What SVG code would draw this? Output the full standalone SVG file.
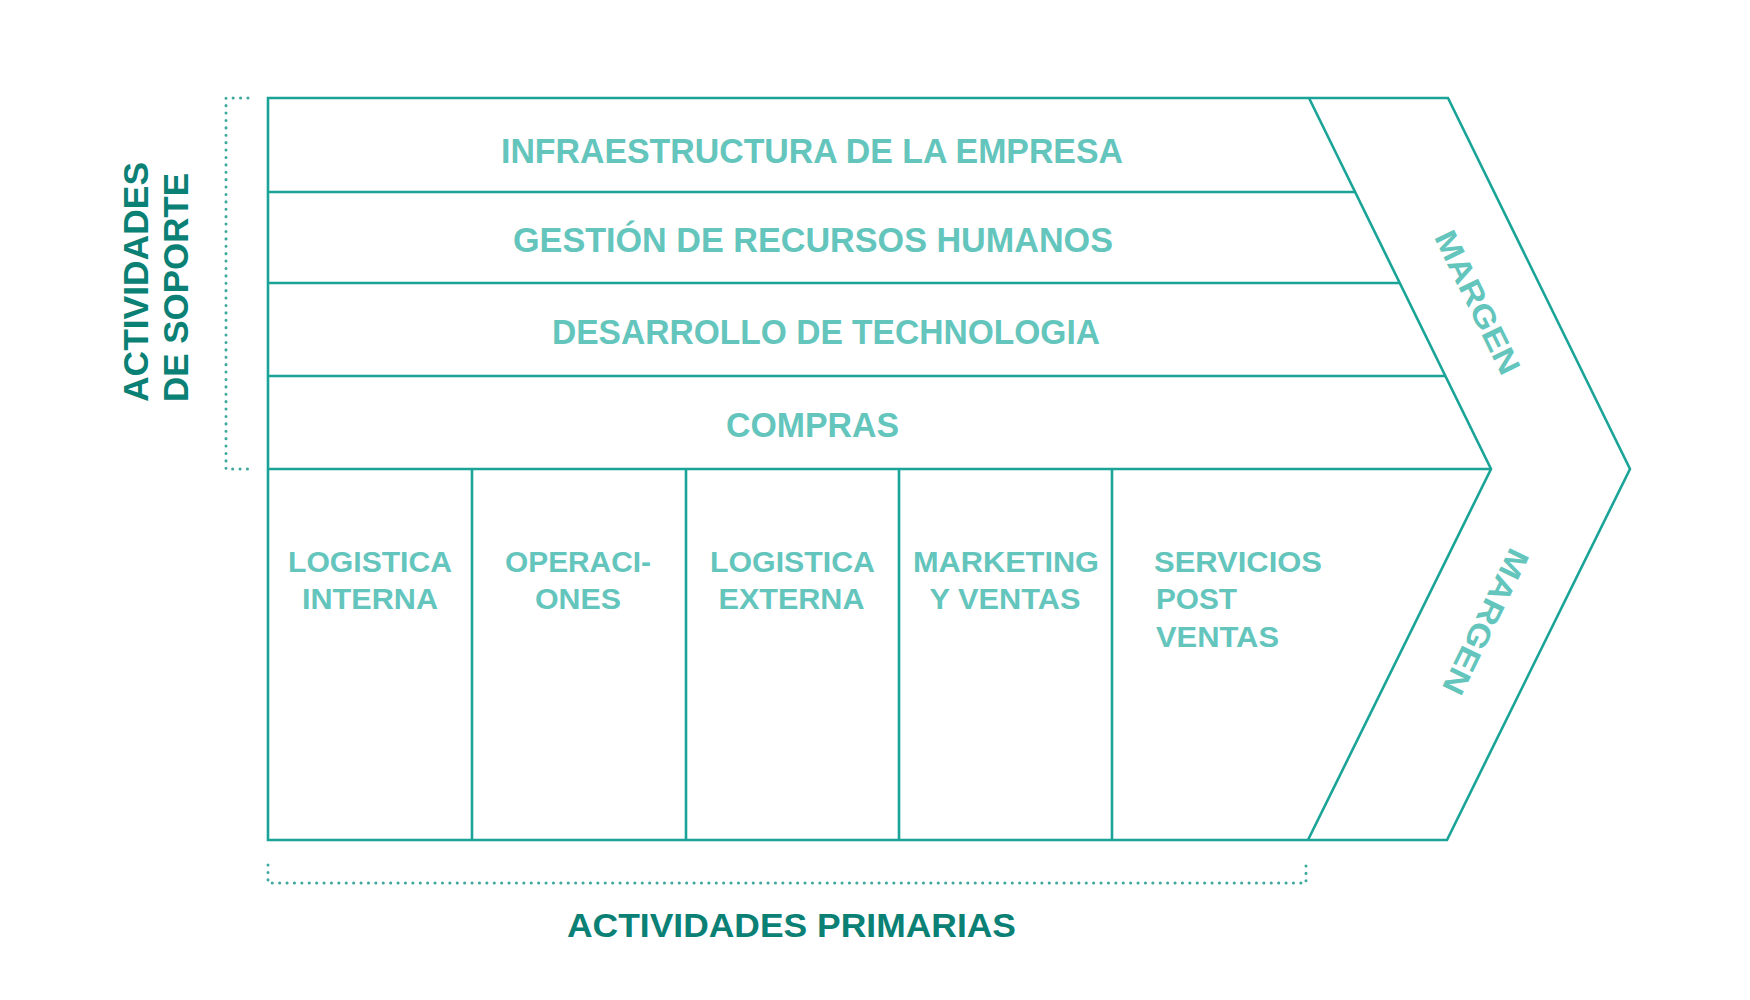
<svg xmlns="http://www.w3.org/2000/svg" width="1750" height="1000" viewBox="0 0 1750 1000">
  <style>
    .ln{fill:none;stroke:#1aa498;stroke-width:2.6;stroke-linejoin:miter}
    .dot{fill:none;stroke:#3fa89d;stroke-width:3;stroke-linecap:round;stroke-dasharray:0.1 7.3}
    .t{font-family:"Liberation Sans",Arial,sans-serif;font-weight:bold;fill:#63c5bc}
    .big{font-size:35px}
    .sm{font-size:29px}
    .mg{font-size:31px}
    .dk{font-family:"Liberation Sans",Arial,sans-serif;font-weight:bold;fill:#0b8074}
  </style>
  <rect width="1750" height="1000" fill="#ffffff"/>

  <g id="connectors">
    <path class="ln" d="M268,98 H1448 L1630,469 L1447,840 H268 Z"/>
    <path class="ln" d="M1309,98 L1491,469 L1308,840"/>
    <line class="ln" x1="268" y1="192" x2="1355" y2="192"/>
    <line class="ln" x1="268" y1="283" x2="1400" y2="283"/>
    <line class="ln" x1="268" y1="376" x2="1445" y2="376"/>
    <line class="ln" x1="268" y1="469" x2="1491" y2="469"/>
    <line class="ln" x1="472" y1="469" x2="472" y2="840"/>
    <line class="ln" x1="686" y1="469" x2="686" y2="840"/>
    <line class="ln" x1="899" y1="469" x2="899" y2="840"/>
    <line class="ln" x1="1112" y1="469" x2="1112" y2="840"/>
    <path class="dot" d="M248,98 H226 V469 H248"/>
    <path class="dot" d="M268,865 V883 H1306 V865"/>
  </g>

  <g id="infraestructura">
    <text class="t big" x="812" y="163" text-anchor="middle" textLength="622" lengthAdjust="spacingAndGlyphs">INFRAESTRUCTURA DE LA EMPRESA</text>
  </g>
  <g id="rrhh">
    <text class="t big" x="813" y="252" text-anchor="middle" textLength="600" lengthAdjust="spacingAndGlyphs">GESTIÓN DE RECURSOS HUMANOS</text>
  </g>
  <g id="tecnologia">
    <text class="t big" x="826" y="344" text-anchor="middle" textLength="548" lengthAdjust="spacingAndGlyphs">DESARROLLO DE TECHNOLOGIA</text>
  </g>
  <g id="compras">
    <text class="t big" x="812.5" y="437" text-anchor="middle" textLength="173" lengthAdjust="spacingAndGlyphs">COMPRAS</text>
  </g>

  <g id="logistica-interna">
    <text class="t sm" x="370" y="572" text-anchor="middle" textLength="164" lengthAdjust="spacingAndGlyphs">LOGISTICA</text>
    <text class="t sm" x="370" y="609" text-anchor="middle" textLength="136" lengthAdjust="spacingAndGlyphs">INTERNA</text>
  </g>
  <g id="operaciones">
    <text class="t sm" x="578" y="572" text-anchor="middle" textLength="146" lengthAdjust="spacingAndGlyphs">OPERACI-</text>
    <text class="t sm" x="578" y="609" text-anchor="middle" textLength="86" lengthAdjust="spacingAndGlyphs">ONES</text>
  </g>
  <g id="logistica-externa">
    <text class="t sm" x="792.5" y="572" text-anchor="middle" textLength="165" lengthAdjust="spacingAndGlyphs">LOGISTICA</text>
    <text class="t sm" x="791.5" y="609" text-anchor="middle" textLength="146" lengthAdjust="spacingAndGlyphs">EXTERNA</text>
  </g>
  <g id="marketing">
    <text class="t sm" x="1006" y="572" text-anchor="middle" textLength="186" lengthAdjust="spacingAndGlyphs">MARKETING</text>
    <text class="t sm" x="1005" y="609" text-anchor="middle" textLength="151" lengthAdjust="spacingAndGlyphs">Y VENTAS</text>
  </g>
  <g id="servicios">
    <text class="t sm" x="1154" y="572" textLength="168" lengthAdjust="spacingAndGlyphs">SERVICIOS</text>
    <text class="t sm" x="1156" y="609" textLength="81" lengthAdjust="spacingAndGlyphs">POST</text>
    <text class="t sm" x="1156" y="647" textLength="123" lengthAdjust="spacingAndGlyphs">VENTAS</text>
  </g>

  <g id="margen-superior">
    <text class="t mg" transform="translate(1468,307) rotate(64)" text-anchor="middle" textLength="156" lengthAdjust="spacingAndGlyphs">MARGEN</text>
  </g>
  <g id="margen-inferior">
    <text class="t mg" transform="translate(1476,617) rotate(116)" text-anchor="middle" textLength="158" lengthAdjust="spacingAndGlyphs">MARGEN</text>
  </g>

  <g id="actividades-soporte">
    <text class="dk big" transform="translate(148,402) rotate(-90)" textLength="240" lengthAdjust="spacingAndGlyphs">ACTIVIDADES</text>
    <text class="dk big" transform="translate(188,402) rotate(-90)" textLength="229" lengthAdjust="spacingAndGlyphs">DE SOPORTE</text>
  </g>
  <g id="actividades-primarias">
    <text class="dk" x="791.5" y="937" font-size="33.5" text-anchor="middle" textLength="449" lengthAdjust="spacingAndGlyphs">ACTIVIDADES PRIMARIAS</text>
  </g>
</svg>
